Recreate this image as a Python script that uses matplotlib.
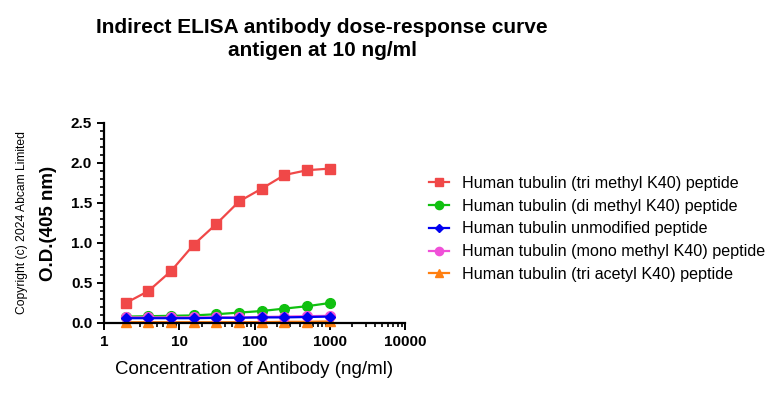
import matplotlib
matplotlib.use("Agg")
import matplotlib.pyplot as plt
from matplotlib.ticker import MultipleLocator, FixedLocator, LogLocator, NullFormatter, FormatStrFormatter

plt.rcParams['font.family'] = ['Liberation Sans', 'DejaVu Sans']

conc = [1.95, 3.9, 7.8, 15.6, 31.25, 62.5, 125, 250, 500, 1000]
tri_methyl = [0.25, 0.40, 0.65, 0.98, 1.24, 1.52, 1.68, 1.85, 1.91, 1.93]
di_methyl = [0.08, 0.085, 0.09, 0.095, 0.11, 0.13, 0.15, 0.18, 0.21, 0.25]
unmodified = [0.06, 0.06, 0.06, 0.06, 0.065, 0.065, 0.07, 0.07, 0.075, 0.08]
mono_methyl = [0.07, 0.07, 0.07, 0.07, 0.07, 0.07, 0.075, 0.08, 0.085, 0.09]
tri_acetyl = [0.01, 0.01, 0.01, 0.01, 0.01, 0.01, 0.01, 0.015, 0.015, 0.02]

series = [
    ("Human tubulin (tri methyl K40) peptide", tri_methyl, "#F04848", "s", 7),
    ("Human tubulin (di methyl K40) peptide", di_methyl, "#10C010", "o", 7),
    ("Human tubulin unmodified peptide", unmodified, "#0000F0", "D", 5),
    ("Human tubulin (mono methyl K40) peptide", mono_methyl, "#F050D8", "o", 7),
    ("Human tubulin (tri acetyl K40) peptide", tri_acetyl, "#FF7F10", "^", 7),
]

fig = plt.figure(figsize=(7.78, 3.95), dpi=100)
ax = fig.add_axes([104 / 778, 1 - 323 / 395, (405 - 104) / 778, 200 / 395])

draw_order = [0, 1, 4, 3, 2]
handles = {}
for i in draw_order:
    label, vals, col, mk, ms = series[i]
    h, = ax.plot(conc, vals, color=col, marker=mk, markersize=ms, linewidth=1.6,
                 label=label, clip_on=False)
    handles[i] = h

ax.set_xscale('log')
ax.set_xlim(1, 10000)
ax.set_ylim(0, 2.5)
ax.yaxis.set_major_locator(MultipleLocator(0.5))
ax.yaxis.set_minor_locator(MultipleLocator(0.1))
ax.yaxis.set_major_formatter(FormatStrFormatter('%.1f'))
ax.xaxis.set_major_locator(FixedLocator([1, 10, 100, 1000, 10000]))
ax.xaxis.set_major_formatter(FormatStrFormatter('%d'))
ax.xaxis.set_minor_locator(LogLocator(base=10, subs=range(2, 10)))
ax.xaxis.set_minor_formatter(NullFormatter())

for s in ['top', 'right']:
    ax.spines[s].set_visible(False)
for s in ['left', 'bottom']:
    ax.spines[s].set_linewidth(1.6)
ax.tick_params(which='major', length=5, width=1.4, labelsize=11)
ax.tick_params(which='minor', length=3, width=1.2)
for t in ax.get_xticklabels() + ax.get_yticklabels():
    t.set_fontweight('bold')

ax.set_xlabel("Concentration of Antibody (ng/ml)", fontsize=13.5, labelpad=9)
ax.set_ylabel("O.D.(405 nm)", fontsize=13.5, fontweight='bold', labelpad=10)

fig.text(322 / 778, 1 - 39 / 395,
         "Indirect ELISA antibody dose-response curve\nantigen at 10 ng/ml",
         ha='center', va='center', fontsize=15, fontweight='bold', linespacing=1.25)

fig.text(22 / 778, 1 - 222 / 395, "Copyright (c) 2024 Abcam Limited",
         rotation=90, ha='center', va='center', fontsize=8.7)

ax.legend([handles[i] for i in range(5)], [s[0] for s in series],
          loc='center left', bbox_to_anchor=(414 / 778, 1 - 229 / 395),
          bbox_transform=fig.transFigure, frameon=False, fontsize=11.6,
          handlelength=1.3, handletextpad=0.8, labelspacing=0.48, markerscale=0.85)

fig.savefig("out.png", dpi=100)
